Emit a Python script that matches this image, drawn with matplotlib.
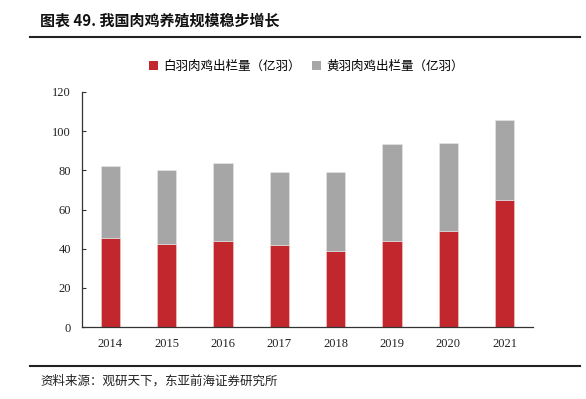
import matplotlib
matplotlib.use("Agg")
import matplotlib.pyplot as plt
from matplotlib.lines import Line2D
from matplotlib.patches import Patch

years = ["2014", "2015", "2016", "2017", "2018", "2019", "2020", "2021"]
white_feather = [45.4, 42.5, 43.7, 41.8, 38.9, 43.9, 49.0, 64.9]
yellow_feather = [36.7, 37.9, 40.3, 37.2, 40.3, 49.4, 44.8, 41.0]
series_names = ["白羽肉鸡出栏量（亿羽）", "黄羽肉鸡出栏量（亿羽）"]
yticks = [0, 20, 40, 60, 80, 100, 120]

cjk = ["Noto Sans CJK SC", "DejaVu Sans"]
serif = "Liberation Serif"
red = "#C1272D"
gray = "#A6A6A6"

fig = plt.figure(figsize=(5.86, 3.99), dpi=100)
ax = fig.add_axes([82/586, 1-327/399, (533-82)/586, (327-92)/399])

x = list(range(len(years)))
ax.bar(x, white_feather, width=0.34, color=red, edgecolor="#f0d0d0", linewidth=0.4, label=series_names[0])
ax.bar(x, yellow_feather, bottom=white_feather, width=0.34, color=gray, edgecolor="#e8e8e8", linewidth=0.4, label=series_names[1])

ax.set_xlim(-0.5, len(years) - 0.5)
ax.set_ylim(0, 120)
ax.set_yticks(yticks)
ax.set_xticks(x)
ax.set_xticklabels(years)
for s in ["top", "right"]:
    ax.spines[s].set_visible(False)
for s in ["left", "bottom"]:
    ax.spines[s].set_color("#333333")
    ax.spines[s].set_linewidth(0.9)
ax.tick_params(axis="y", direction="in", length=3, width=0.8, color="#333333", pad=8)
ax.tick_params(axis="x", length=0, pad=8)
for lab in ax.get_yticklabels() + ax.get_xticklabels():
    lab.set_fontfamily(serif)
    lab.set_fontsize(9)
    lab.set_color("#222222")

handles = [Patch(facecolor=red), Patch(facecolor=gray)]
fig.legend(handles, series_names, loc="center", bbox_to_anchor=(306/586, 1-66/399),
           ncol=2, frameon=False, prop={"family": cjk, "size": 9},
           handlelength=0.75, handleheight=0.75, handletextpad=0.4, columnspacing=0.9)

fig.text(40/586, 1-21/399, "图表 49. 我国肉鸡养殖规模稳步增长", fontfamily=cjk, fontsize=10.8,
         fontweight="bold", va="center", ha="left", color="#111111")
fig.add_artist(Line2D([30/586, 580/586], [1-37/399, 1-37/399], color="#222222", linewidth=1.5))
fig.add_artist(Line2D([30/586, 580/586], [1-366/399, 1-366/399], color="#222222", linewidth=1.5))
fig.text(40/586, 1-381/399, "资料来源：观研天下，东亚前海证券研究所", fontfamily=cjk, fontsize=9,
         va="center", ha="left", color="#222222")

fig.savefig("out.png", dpi=100)
